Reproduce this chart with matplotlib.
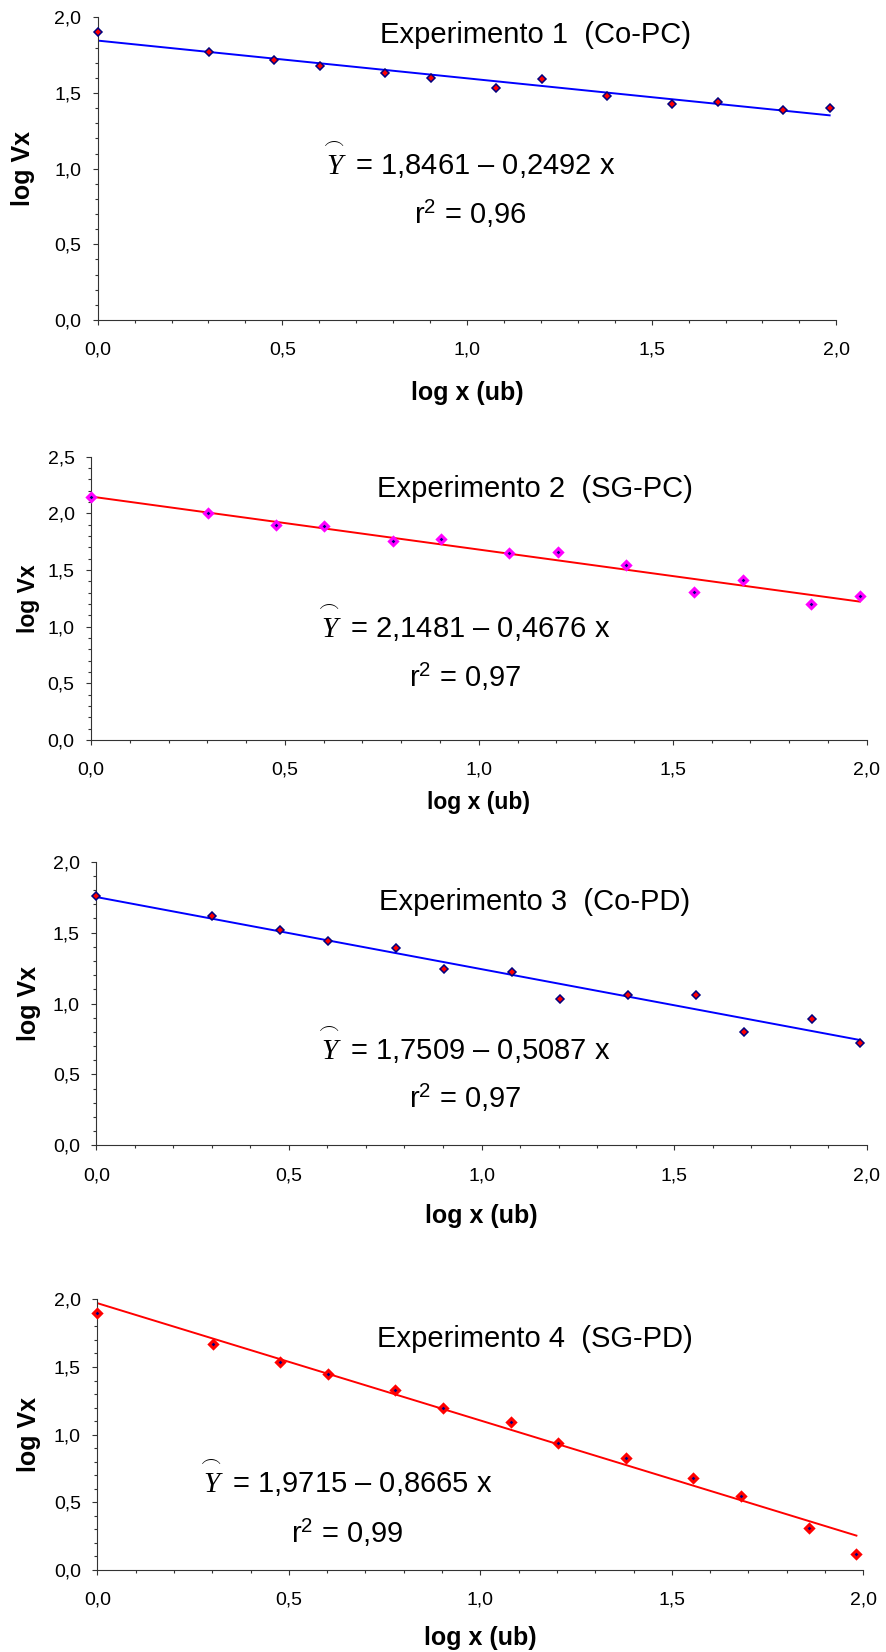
import numpy as np
import matplotlib
matplotlib.use("Agg")
import matplotlib.pyplot as plt
from matplotlib.ticker import MultipleLocator, FuncFormatter

plt.rcParams['font.family'] = ['Liberation Sans', 'DejaVu Sans']
plt.rcParams['mathtext.fontset'] = 'custom'
plt.rcParams['mathtext.rm'] = 'Liberation Sans'
plt.rcParams['mathtext.it'] = 'Liberation Serif:italic'
plt.rcParams['mathtext.bf'] = 'Liberation Sans:bold'

# log of dose (ub), same for all four experiments
log_x = [0.0, 0.301, 0.477, 0.602, 0.778, 0.903, 1.079, 1.204, 1.380, 1.556, 1.681, 1.857, 1.982]

exp1_y = [1.90, 1.77, 1.72, 1.68, 1.63, 1.60, 1.53, 1.59, 1.48, 1.43, 1.44, 1.39, 1.40]
exp2_y = [2.14, 2.00, 1.90, 1.89, 1.76, 1.77, 1.65, 1.66, 1.54, 1.31, 1.41, 1.20, 1.27]
exp3_y = [1.76, 1.62, 1.52, 1.44, 1.39, 1.24, 1.22, 1.03, 1.06, 1.06, 0.80, 0.89, 0.72]
exp4_y = [1.90, 1.67, 1.54, 1.45, 1.33, 1.20, 1.09, 0.94, 0.83, 0.68, 0.55, 0.31, 0.12]

titles = ['Experimento 1  (Co-PC)', 'Experimento 2  (SG-PC)',
          'Experimento 3  (Co-PD)', 'Experimento 4  (SG-PD)']
intercepts = [1.8461, 2.1481, 1.7509, 1.9715]
slopes = [0.2492, 0.4676, 0.5087, 0.8665]
r2_values = ['0,96', '0,97', '0,97', '0,99']
y_max = [2.0, 2.5, 2.0, 2.0]

W, H = 886, 1652
fig = plt.figure(figsize=(W / 100, H / 100), dpi=100)


def fx(px):
    return px / W


def fy(py):
    return 1 - py / H


def comma(v, pos=None):
    return f'{v:.1f}'.replace('.', ',')


# pixel boxes (left, top, right, bottom) and text anchors for each panel
panels = [
    dict(y=exp1_y, box=(97.7, 17.3, 836.3, 320), line='#0000FF', face='#FF0000', edge='#000080',
         ms=4.3, mew=1.1, title_y=43, eq=(468, 175), r2=(470, 224), xlab_y=393, ylab_x=23, lab_size=18),
    dict(y=exp2_y, box=(91, 456.7, 866.7, 740), line='#FF0000', face='#000080', edge='#FF00FF',
         ms=3.6, mew=2.2, title_y=497, eq=(463, 638), r2=(465, 687), xlab_y=802, ylab_x=29, lab_size=16.5),
    dict(y=exp3_y, box=(96.3, 861.7, 866.7, 1145.3), line='#0000FF', face='#FF0000', edge='#000080',
         ms=4.3, mew=1.1, title_y=910, eq=(463, 1060), r2=(465, 1108), xlab_y=1216, ylab_x=29, lab_size=18),
    dict(y=exp4_y, box=(97.3, 1299.3, 863.3, 1570), line='#FF0000', face='#000080', edge='#FF0000',
         ms=3.6, mew=2.2, title_y=1347, eq=(345, 1493), r2=(347, 1543), xlab_y=1638, ylab_x=29, lab_size=18),
]

for i, p in enumerate(panels):
    l, t, r, b = p['box']
    ax = fig.add_axes([fx(l), fy(b), (r - l) / W, (b - t) / H])

    xs = np.array(log_x)
    ax.plot(xs, intercepts[i] - slopes[i] * xs, color=p['line'], lw=1.4, zorder=2)
    ax.plot(xs, p['y'], linestyle='none', marker='D', ms=p['ms'], mfc=p['face'], mec=p['edge'],
            mew=p['mew'], zorder=3, clip_on=False)

    ax.set_xlim(0, 2.0)
    ax.set_ylim(0, y_max[i])
    for side in ('top', 'right'):
        ax.spines[side].set_visible(False)
    for side in ('left', 'bottom'):
        ax.spines[side].set_linewidth(0.8)
        ax.spines[side].set_color('#333333')

    ax.xaxis.set_major_locator(MultipleLocator(0.5))
    ax.xaxis.set_minor_locator(MultipleLocator(0.1))
    ax.yaxis.set_major_locator(MultipleLocator(0.5))
    ax.yaxis.set_minor_locator(MultipleLocator(0.1))
    ax.xaxis.set_major_formatter(FuncFormatter(comma))
    ax.yaxis.set_major_formatter(FuncFormatter(comma))
    ax.tick_params(axis='both', which='major', direction='out', length=3.8, width=0.8,
                   color='#333333', labelsize=14)
    ax.tick_params(axis='both', which='minor', direction='out', length=2.4, width=0.8, color='#333333')
    ax.tick_params(axis='x', which='major', pad=12)
    ax.tick_params(axis='y', which='major', pad=8)

    ax.set_xlabel('log x (ub)', fontsize=p['lab_size'], fontweight='bold', va='center')
    ax.xaxis.set_label_coords(fx((l + r) / 2), fy(p['xlab_y']), transform=fig.transFigure)
    ax.set_ylabel('log Vx', fontsize=p['lab_size'], fontweight='bold', va='center')
    ax.yaxis.set_label_coords(fx(p['ylab_x']), fy((t + b) / 2), transform=fig.transFigure)

    fig.text(fx(535), fy(p['title_y']), titles[i], fontsize=21, ha='center', va='baseline')
    a_txt = f'{intercepts[i]:.4f}'.replace('.', ',')
    b_txt = f'{slopes[i]:.4f}'.replace('.', ',')
    fig.text(fx(p['eq'][0]), fy(p['eq'][1]), r'$\overset{\frown}{Y}$' + f' = {a_txt} \u2013 {b_txt} x',
             fontsize=21, ha='center', va='baseline')
    fig.text(fx(p['r2'][0]), fy(p['r2'][1]), r'r$^{2}$' + f' = {r2_values[i]}',
             fontsize=21, ha='center', va='baseline')

fig.savefig('out.png', dpi=100)
